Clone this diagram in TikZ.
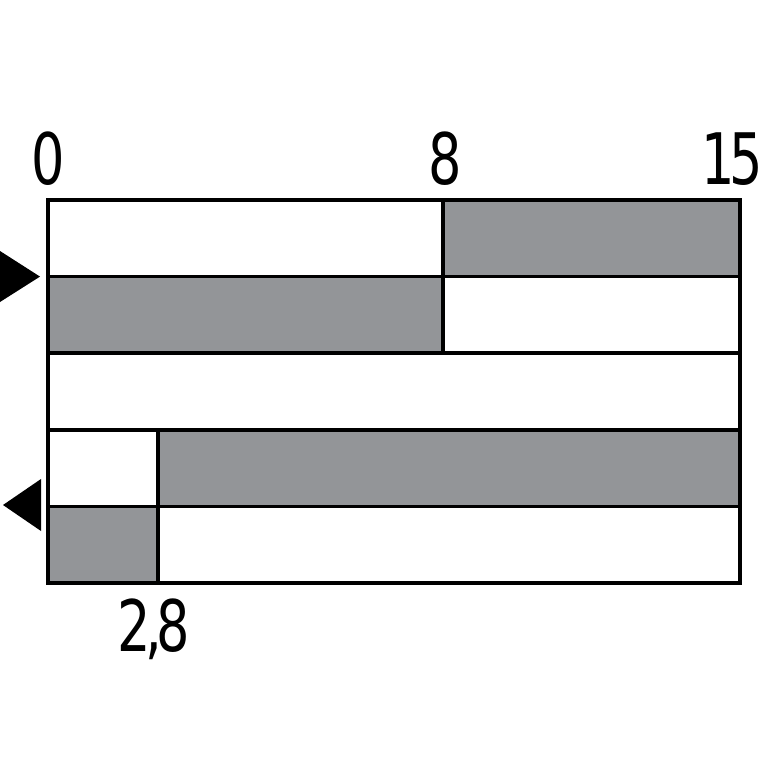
\documentclass[tikz,border=0pt]{standalone}
\usepackage{fontspec}
\newfontfamily\labfont[FakeStretch=0.74,LetterSpace=-8]{DejaVu Sans}
\definecolor{bargray}{HTML}{939598}
\begin{document}
\begin{tikzpicture}[x=1pt,y=-1pt,
  cell/.style={draw=black,line width=3.6pt,line join=miter},
  grayc/.style={cell,fill=bargray},
  whitec/.style={cell,fill=white},
  lab/.style={inner sep=0pt,anchor=base,font=\labfont\fontsize{71}{71}\selectfont},
  marker/.style={fill=black,draw=none}]
\useasboundingbox (0,0) rectangle (767,767);
% rows
\path[whitec] (48,200) rectangle (443,276.6);
\path[grayc]  (443,200) rectangle (740,276.6);
\path[grayc]  (48,276.6) rectangle (443,353.2);
\path[whitec] (443,276.6) rectangle (740,353.2);
\path[whitec] (48,353.2) rectangle (740,429.8);
\path[whitec] (48,429.8) rectangle (158,506.4);
\path[grayc]  (158,429.8) rectangle (740,506.4);
\path[grayc]  (48,506.4) rectangle (158,583);
\path[whitec] (158,506.4) rectangle (740,583);
% markers
\fill[marker] (0,251) -- (40,276.6) -- (0,302) -- cycle;
\fill[marker] (41,479) -- (3,505) -- (41,531) -- cycle;
% labels
\node[lab] (l0) at (48.5,185) {0};
\node[lab] (l8) at (445,185) {8};
\node[lab] (l15) at (732,185) {15};
\node[lab] (l28) at (154,651) {2,8};
\end{tikzpicture}
\end{document}
